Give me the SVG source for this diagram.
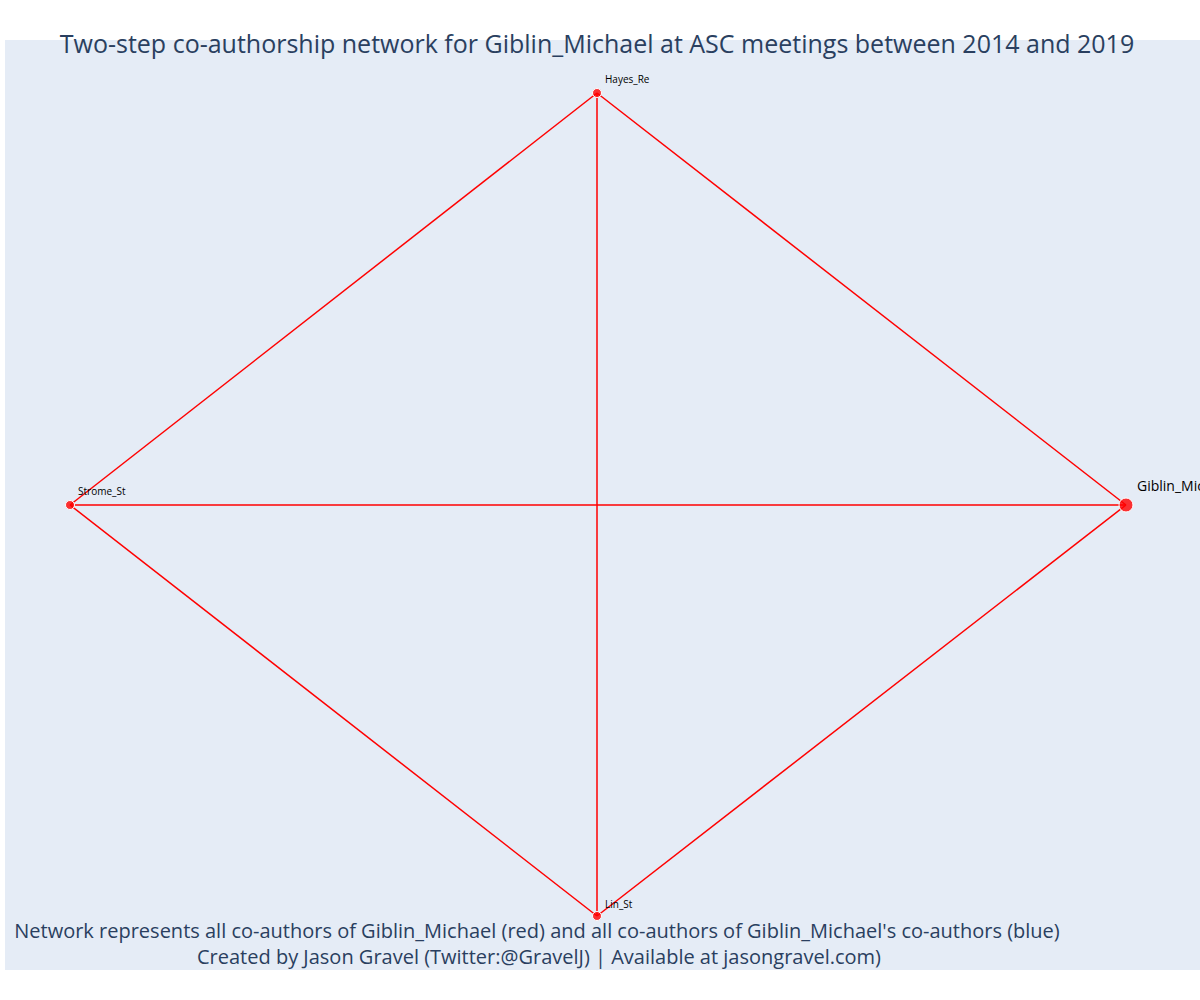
<svg xmlns="http://www.w3.org/2000/svg" width="1200" height="1000" viewBox="0 0 1200 1000">
<style>
.edge{stroke:#ff0000;stroke-width:1.5;fill:none}
.node{fill:#ff0000;fill-opacity:0.8;stroke:#ffffff;stroke-width:1}
.lbl{font-family:"Open Sans","Noto Sans","Liberation Sans",sans-serif;fill:#000000;font-size:10px}
.title{font-family:"Open Sans","Noto Sans","Liberation Sans",sans-serif;fill:#2a3f5f}
</style>
<rect x="0" y="0" width="1200" height="1000" fill="#ffffff"/>
<rect x="5" y="40" width="1195" height="930" fill="#e5ecf6"/>
<g id="connectors">
<line class="edge" x1="597" y1="93" x2="70" y2="505"/>
<line class="edge" x1="597" y1="93" x2="1126" y2="505"/>
<line class="edge" x1="597" y1="93" x2="597" y2="916"/>
<line class="edge" x1="70" y1="505" x2="1126" y2="505"/>
<line class="edge" x1="70" y1="505" x2="597" y2="916"/>
<line class="edge" x1="1126" y1="505" x2="597" y2="916"/>
</g>
<g id="node-hayes">
<circle class="node" cx="597" cy="93" r="4.5"/>
<text class="lbl" x="605" y="83">Hayes_Re</text>
</g>
<g id="node-strome">
<circle class="node" cx="70" cy="505" r="4.5"/>
<text class="lbl" x="78" y="495">Strome_St</text>
</g>
<g id="node-lin">
<circle class="node" cx="597" cy="916" r="4.5"/>
<text class="lbl" x="605" y="908">Lin_St</text>
</g>
<g id="node-giblin">
<circle class="node" cx="1126" cy="505" r="7"/>
<text class="lbl" x="1137" y="491" style="font-size:14px">Giblin_Michael</text>
</g>
<text class="title" x="597" y="53" text-anchor="middle" font-size="25">Two-step co-authorship network for Giblin_Michael at ASC meetings between 2014 and 2019</text>
<text class="title" x="537" y="938" text-anchor="middle" font-size="20">Network represents all co-authors of Giblin_Michael (red) and all co-authors of Giblin_Michael's co-authors (blue)</text>
<text class="title" x="539" y="964" text-anchor="middle" font-size="20">Created by Jason Gravel (Twitter:@GravelJ) | Available at jasongravel.com)</text>
</svg>
